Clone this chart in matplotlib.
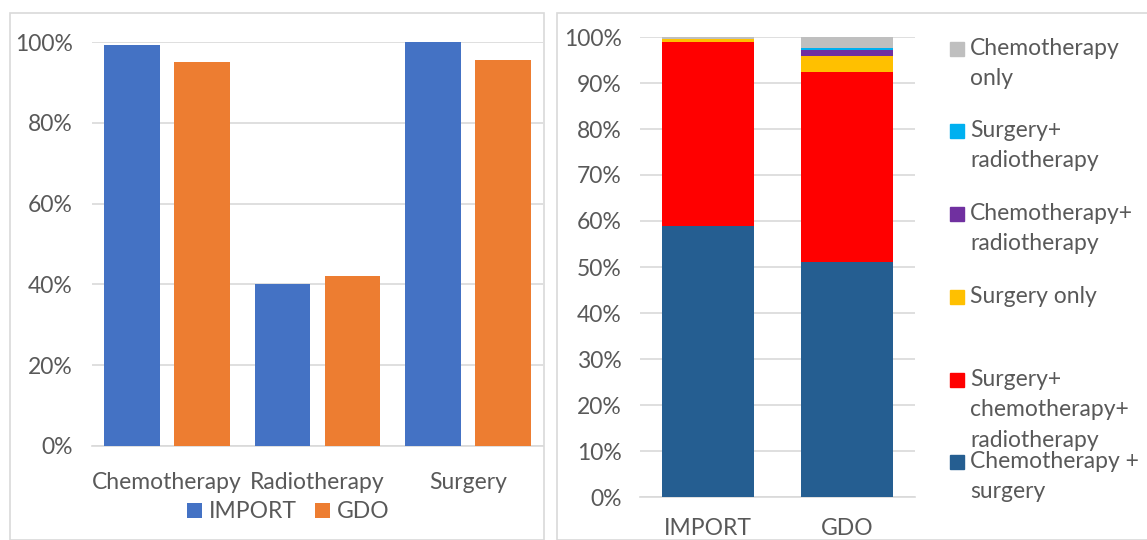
import matplotlib
matplotlib.use("Agg")
import matplotlib.pyplot as plt
from matplotlib.patches import Rectangle
from matplotlib.ticker import PercentFormatter
import numpy as np

# ------------------------------
# Data
# ------------------------------

# left panel: share of patients receiving each treatment
treatments = ["Chemotherapy", "Radiotherapy", "Surgery"]
import_share = [0.993, 0.402, 1.000]
gdo_share = [0.950, 0.422, 0.955]

# right panel: treatment combinations (bottom to top)
cohorts = ["IMPORT", "GDO"]
combo_labels = [
    "Chemotherapy +\nsurgery",
    "Surgery+\nchemotherapy+\nradiotherapy",
    "Surgery only",
    "Chemotherapy+\nradiotherapy",
    "Surgery+\nradiotherapy",
    "Chemotherapy\nonly",
]
combo_import = [0.589, 0.400, 0.007, 0.000, 0.000, 0.004]
combo_gdo = [0.511, 0.413, 0.035, 0.012, 0.005, 0.024]
combo_colors = ["#255E91", "#FF0000", "#FFC000", "#7030A0", "#00B0F0", "#BFBFBF"]

TEXT = "#595959"
GRID = "#D9D9D9"
FS = 16.5

plt.rcParams["font.family"] = ["Lato", "DejaVu Sans"]

fig = plt.figure(figsize=(11.47, 5.4), dpi=100)
W, H = 1147, 540

# panel frames
fig.patches.append(Rectangle((10 / W, 0), 534 / W, 1 - 13 / H, transform=fig.transFigure,
                             fill=False, edgecolor=GRID, lw=1.2))
fig.patches.append(Rectangle((557 / W, 0), 600 / W, 1 - 13 / H, transform=fig.transFigure,
                             fill=False, edgecolor=GRID, lw=1.2))

# ------------------------------
# Left: grouped bars
# ------------------------------
ax1 = fig.add_axes([92 / W, 1 - 446 / H, 451 / W, (446 - 42) / H])
x = np.arange(len(treatments))
w = 0.37
ax1.bar(x - 0.233, import_share, w, color="#4472C4", label="IMPORT", zorder=3)
ax1.bar(x + 0.233, gdo_share, w, color="#ED7D31", label="GDO", zorder=3)
ax1.set_xlim(-0.5, 2.5)
ax1.set_ylim(0, 1)
ax1.set_yticks(np.arange(0, 1.01, 0.2))
ax1.yaxis.set_major_formatter(PercentFormatter(1.0, decimals=0))
ax1.set_xticks(x)
ax1.set_xticklabels(treatments)
ax1.grid(axis="y", color=GRID, lw=1.2, zorder=0)
for s in ax1.spines.values():
    s.set_visible(False)
ax1.spines["bottom"].set_visible(True)
ax1.spines["bottom"].set_color(GRID)
ax1.spines["bottom"].set_linewidth(1.2)
ax1.tick_params(length=0, labelsize=FS, colors=TEXT)
ax1.tick_params(axis="x", pad=19)
ax1.tick_params(axis="y", pad=14)
ax1.legend(loc="center", bbox_to_anchor=(0.435, -0.163), ncol=2, frameon=False,
           fontsize=FS, labelcolor=TEXT, handlelength=0.65, handleheight=0.65,
           handletextpad=0.3, columnspacing=0.8)

# ------------------------------
# Right: stacked bars
# ------------------------------
ax2 = fig.add_axes([640 / W, 1 - 497 / H, 275 / W, (497 - 37) / H])
xc = np.arange(len(cohorts))
bottom = np.zeros(len(cohorts))
for lab, vi, vg, col in zip(combo_labels, combo_import, combo_gdo, combo_colors):
    vals = np.array([vi, vg])
    ax2.bar(xc, vals, 0.66, bottom=bottom, color=col, zorder=3)
    bottom += vals
ax2.set_xlim(-0.49, 1.49)
ax2.set_ylim(0, 1)
ax2.set_yticks(np.arange(0, 1.01, 0.1))
ax2.yaxis.set_major_formatter(PercentFormatter(1.0, decimals=0))
ax2.set_xticks(xc)
ax2.set_xticklabels(cohorts)
ax2.grid(axis="y", color=GRID, lw=1.2, zorder=0)
for s in ax2.spines.values():
    s.set_visible(False)
ax2.spines["bottom"].set_visible(True)
ax2.spines["bottom"].set_color(GRID)
ax2.spines["bottom"].set_linewidth(1.2)
ax2.tick_params(length=0, labelsize=FS, colors=TEXT)
ax2.tick_params(axis="x", pad=15)
ax2.tick_params(axis="y", pad=13)

# legend (top entry first)
legend_y = [42, 124, 207, 290, 373, 455]
for ty, lab, col in zip(legend_y, combo_labels[::-1], combo_colors[::-1]):
    fig.patches.append(Rectangle((950 / W, 1 - (ty + 14) / H), 14 / W, 14 / H,
                                 transform=fig.transFigure, color=col))
    fig.text(970 / W, 1 - (ty - 4) / H, lab, fontsize=FS, color=TEXT,
             va="top", ha="left", linespacing=1.55)

fig.savefig("out.png", dpi=100)
